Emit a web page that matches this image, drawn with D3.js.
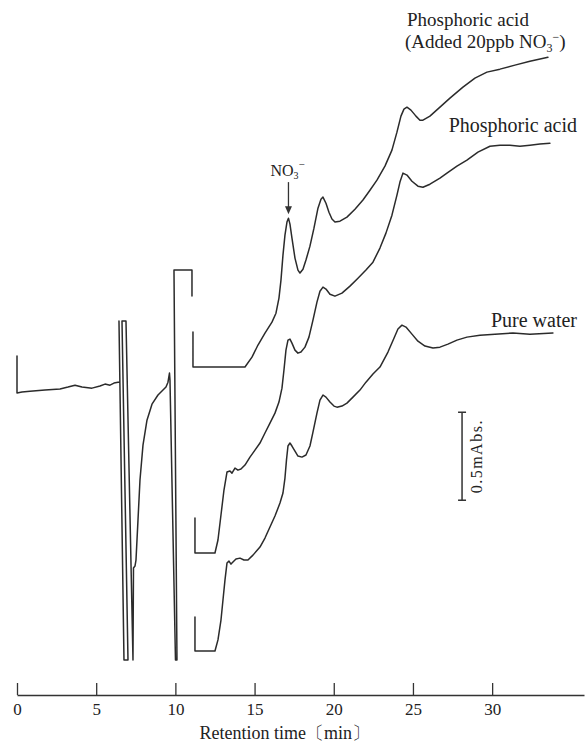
<!DOCTYPE html>
<html>
<head>
<meta charset="utf-8">
<script src="https://cdn.jsdelivr.net/npm/d3@7"></script>
<style>
  html, body { margin: 0; padding: 0; background: #fff; }
  svg { display: block; }
  text { font-family: "Liberation Serif", "DejaVu Serif", serif; fill: #222; }
</style>
</head>
<body>
<svg id="chart" width="585" height="743"></svg>
<script>
// ---- data: retention time (min), signal (mAbs, with pen offsets as drawn) ----
const xTicks = [0, 5, 10, 15, 20, 25, 30];
const xTitle = "Retention time〔min〕";

// common start of the run (0–11 min), incl. off-scale solvent peaks
const startTrace = [
  [0,1.926],[0,1.716],[0.316,1.722],[0.821,1.727],[1.768,1.733],[2.715,1.739],
  [3.220,1.750],[3.662,1.761],[4.104,1.750],[4.735,1.744],[5.240,1.756],
  [5.556,1.767],[5.871,1.761],[6.124,1.773],[6.376,1.778],[6.496,1.778],
  [6.439,2.125],[6.755,0.199],[7.008,0.199],[6.629,2.125],[6.881,2.125],[7.323,0.199],
  [7.355,0.722],[7.449,0.733],[7.513,0.767],[7.639,0.994],[7.765,1.222],[7.955,1.420],
  [8.207,1.562],[8.523,1.653],[8.902,1.705],[9.217,1.733],[9.407,1.750],[9.533,1.778],
  [9.627,1.830],[9.659,1.790],[10.006,0.199],[10.101,0.199],[9.912,2.415],
  [11.048,2.415],[11.048,2.267]
];

// Phosphoric acid (Added 20ppb NO3-)
const phosNO3 = [
  [11.111,2.063],[11.111,1.864],[14.394,1.864],[14.836,1.920],[15.215,1.989],[15.657,2.057],
  [16.098,2.119],[16.351,2.170],[16.540,2.256],[16.667,2.358],[16.793,2.500],[16.919,2.614],
  [17.045,2.688],[17.140,2.710],[17.235,2.676],[17.361,2.597],[17.551,2.483],[17.740,2.415],
  [17.866,2.398],[18.056,2.420],[18.245,2.472],[18.497,2.551],[18.750,2.653],[19.003,2.767],
  [19.192,2.818],[19.318,2.830],[19.508,2.795],[19.697,2.744],[19.886,2.705],[20.076,2.688],
  [20.391,2.693],[20.833,2.716],[21.338,2.761],[21.843,2.813],[22.285,2.869],[22.727,2.926],
  [23.232,3.006],[23.674,3.097],[23.990,3.199],[24.242,3.290],[24.432,3.330],[24.621,3.341],
  [24.874,3.324],[25.189,3.290],[25.442,3.267],[25.631,3.267],[26.073,3.290],[26.705,3.341],
  [27.336,3.392],[28.157,3.455],[28.914,3.506],[29.672,3.540],[30.492,3.557],[31.439,3.580],
  [32.386,3.602],[33.523,3.625]
];

// Phosphoric acid
const phos = [
  [11.237,1.006],[11.237,0.807],[12.500,0.807],[12.689,0.881],[12.879,1.023],[13.068,1.165],
  [13.258,1.267],[13.447,1.273],[13.573,1.261],[13.763,1.290],[13.952,1.278],[14.141,1.284],
  [14.394,1.307],[14.710,1.352],[15.025,1.392],[15.341,1.432],[15.657,1.489],[15.972,1.545],
  [16.288,1.602],[16.540,1.665],[16.730,1.744],[16.856,1.847],[16.982,1.960],[17.109,2.017],
  [17.235,2.023],[17.361,2.000],[17.551,1.960],[17.740,1.943],[17.929,1.949],[18.182,1.977],
  [18.434,2.034],[18.687,2.131],[18.939,2.233],[19.129,2.295],[19.318,2.318],[19.508,2.307],
  [19.760,2.278],[20.076,2.267],[20.518,2.284],[21.023,2.324],[21.528,2.369],[22.033,2.415],
  [22.475,2.460],[22.917,2.540],[23.295,2.625],[23.674,2.727],[23.990,2.841],[24.179,2.915],
  [24.369,2.966],[24.621,2.955],[24.937,2.920],[25.316,2.892],[25.631,2.886],[26.073,2.903],
  [26.705,2.938],[27.146,2.966],[27.778,3.006],[28.409,3.040],[29.104,3.085],[29.861,3.119],
  [30.492,3.125],[31.124,3.125],[31.755,3.119],[32.386,3.125],[33.018,3.131],[33.649,3.136]
];

// Pure water
const water = [
  [11.237,0.443],[11.237,0.250],[12.500,0.250],[12.689,0.313],[12.879,0.426],[13.005,0.540],
  [13.131,0.653],[13.258,0.750],[13.384,0.761],[13.510,0.744],[13.636,0.756],[13.826,0.773],
  [14.078,0.778],[14.331,0.767],[14.583,0.767],[14.899,0.795],[15.341,0.841],[15.657,0.892],
  [15.972,0.955],[16.288,1.017],[16.604,1.091],[16.793,1.148],[16.919,1.233],[17.014,1.335],
  [17.109,1.415],[17.235,1.432],[17.361,1.415],[17.551,1.386],[17.740,1.358],[17.992,1.352],
  [18.245,1.364],[18.497,1.415],[18.687,1.494],[18.939,1.602],[19.129,1.676],[19.318,1.705],
  [19.508,1.693],[19.760,1.665],[20.013,1.642],[20.202,1.636],[20.518,1.642],[20.833,1.659],
  [21.212,1.693],[21.654,1.733],[22.033,1.778],[22.475,1.824],[22.917,1.864],[23.422,1.949],
  [23.801,2.028],[24.053,2.080],[24.306,2.102],[24.558,2.091],[24.937,2.051],[25.316,2.011],
  [25.758,1.983],[26.263,1.972],[26.705,1.977],[27.210,1.994],[27.778,2.017],[28.409,2.034],
  [29.230,2.045],[30.177,2.051],[31.313,2.057],[32.386,2.051],[33.838,2.057]
];

// NO3- marker (retention time, arrow top / tip in mAbs)
const no3Peak = { t: 17.14, top: 2.915, tip: 2.733 };
// scale bar: 0.5 mAbs
const scaleBar = { t: 28.1, from: 1.107, size: 0.5, label: "0.5mAbs." };

// ---- scales ----
const svg = d3.select("#chart");
const x = d3.scaleLinear().domain([0, 35.8]).range([17, 584]);
const y = d3.scaleLinear().domain([0, 3.95]).range([695, 0]);

// ---- axis ----
const axis = d3.axisBottom(x)
  .tickValues(xTicks)
  .tickSizeInner(-12)
  .tickSizeOuter(0)
  .tickPadding(8)
  .tickFormat(d3.format("d"));
const gx = svg.append("g").attr("transform", `translate(0,${y(0)})`).call(axis);
gx.select(".domain").attr("stroke", "#333").attr("stroke-width", 1.6);
gx.selectAll(".tick line").attr("stroke", "#333").attr("stroke-width", 1.3);
gx.selectAll(".tick text")
  .style("font-family", '"Liberation Serif", serif')
  .style("font-size", "17px")
  .attr("fill", "#222");

svg.append("text")
  .attr("x", x(16.9)).attr("y", 739)
  .attr("text-anchor", "middle")
  .style("font-size", "18px")
  .text(xTitle);

// ---- traces ----
const line = d3.line().x(d => x(d[0])).y(d => y(d[1])).curve(d3.curveLinear);
[startTrace, phosNO3, phos, water].forEach(tr => {
  svg.append("path")
    .datum(tr)
    .attr("d", line)
    .attr("fill", "none")
    .attr("stroke", "#2b2b2b")
    .attr("stroke-width", 1.5)
    .attr("stroke-linejoin", "round")
    .attr("stroke-linecap", "round");
});

// ---- trace labels ----
const lbl = svg.append("g").style("font-size", "19px");
const t1 = lbl.append("text").attr("x", 407).attr("y", 26);
t1.append("tspan").text("Phosphoric acid");
const t2 = lbl.append("text").attr("x", 405).attr("y", 48);
t2.append("tspan").text("(Added 20ppb NO");
t2.append("tspan").attr("dy", 4).style("font-size", "12px").text("3");
t2.append("tspan").attr("dy", -11).style("font-size", "12px").text("−");
t2.append("tspan").attr("dy", 7).text(")");
lbl.append("text").attr("x", 577).attr("y", 132).attr("text-anchor", "end")
  .style("font-size", "20px").text("Phosphoric acid");
lbl.append("text").attr("x", 577).attr("y", 327).attr("text-anchor", "end")
  .style("font-size", "20px").text("Pure water");

// ---- NO3- annotation ----
const ax = x(no3Peak.t);
const no3 = svg.append("text").attr("x", ax - 18).attr("y", 176).style("font-size", "16px");
no3.append("tspan").text("NO");
no3.append("tspan").attr("dy", 3).style("font-size", "10px").text("3");
no3.append("tspan").attr("dy", -11).style("font-size", "11px").text("−");
svg.append("line")
  .attr("x1", ax).attr("x2", ax)
  .attr("y1", y(no3Peak.top)).attr("y2", y(no3Peak.tip) - 6)
  .attr("stroke", "#333").attr("stroke-width", 1.3);
svg.append("path")
  .attr("d", `M${ax - 3.5},${y(no3Peak.tip) - 8} L${ax + 3.5},${y(no3Peak.tip) - 8} L${ax},${y(no3Peak.tip)} Z`)
  .attr("fill", "#333");

// ---- scale bar ----
const sx = x(scaleBar.t);
const sy0 = y(scaleBar.from), sy1 = y(scaleBar.from + scaleBar.size);
const sb = svg.append("g").attr("stroke", "#333").attr("stroke-width", 1.5);
sb.append("line").attr("x1", sx).attr("x2", sx).attr("y1", sy0).attr("y2", sy1);
sb.append("line").attr("x1", sx - 4).attr("x2", sx + 4).attr("y1", sy0).attr("y2", sy0);
sb.append("line").attr("x1", sx - 4).attr("x2", sx + 4).attr("y1", sy1).attr("y2", sy1);
svg.append("text")
  .attr("transform", `translate(${sx + 20},${(sy0 + sy1) / 2}) rotate(-90)`)
  .attr("text-anchor", "middle")
  .style("font-size", "16px")
  .style("letter-spacing", "1.5px")
  .text(scaleBar.label);
</script>
</body>
</html>
